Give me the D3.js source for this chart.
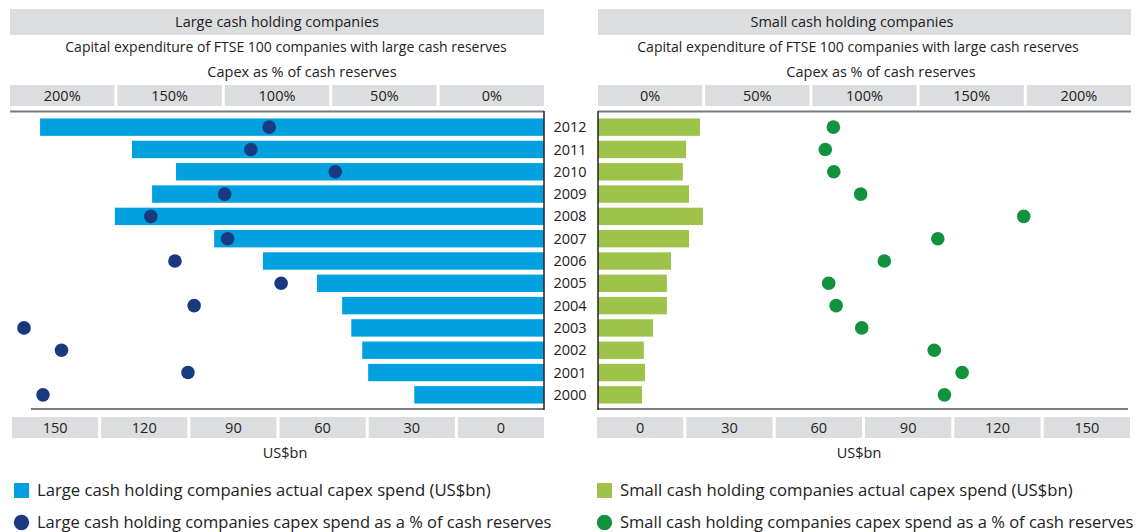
<!DOCTYPE html>
<html>
<head>
<meta charset="utf-8">
<script src="https://cdn.jsdelivr.net/npm/d3@7"></script>
<style>
  body { margin: 0; background: #fff; }
  svg text { font-family: "Open Sans", "Noto Sans", sans-serif; fill: #222; }
</style>
</head>
<body>
<svg id="chart" width="1141" height="532"></svg>
<script>
let svg = d3.select('#chart');

// data
let years = ['2012','2011','2010','2009','2008','2007','2006','2005','2004','2003','2002','2001','2000'];
let largeSpend = [170.5, 139.4, 124.5, 132.6, 145.2, 111.6, 95.1, 76.8, 68.3, 65.2, 61.5, 59.5, 43.9];
let largePct   = [128.9, 137.5, 97.9, 149.8, 184.4, 148.4, 173.1, 123.3, 164.1, 243.9, 226.3, 167.0, 235.0];
let smallSpend = [34.5, 29.8, 28.7, 30.8, 35.5, 30.8, 24.7, 23.3, 23.3, 18.6, 15.5, 15.9, 14.9];
let smallPct   = [110.4, 106.6, 110.6, 123.2, 199.7, 159.4, 134.3, 108.2, 111.7, 123.7, 157.7, 170.8, 162.5];
let pctTicks = ['0%', '50%', '100%', '150%', '200%'];
let bnTicks = ['0', '30', '60', '90', '120', '150'];

let boxFill = '#dcdddf';
let lineColor = '#7a7a7a';

let y = d3.scaleBand()
    .domain(years)
    .range([116, 406])
    .paddingInner(0.22)
    .paddingOuter(0.11);

function drawPanel(p) {
  let g = svg.append('g');

  // header
  g.append('rect').attr('x', p.left).attr('y', 9).attr('width', p.right - p.left).attr('height', 26).attr('fill', boxFill);
  g.append('text').attr('x', p.titleX).attr('y', 22).attr('dy', '0.35em')
    .attr('text-anchor', 'middle').style('font-size', '14.5px').text(p.title);
  g.append('text').attr('x', p.subX).attr('y', 47).attr('dy', '0.35em')
    .attr('text-anchor', 'middle').style('font-size', '14px').text(p.subtitle);
  g.append('text').attr('x', p.capexX).attr('y', 72).attr('dy', '0.35em')
    .attr('text-anchor', 'middle').style('font-size', '14.5px').text('Capex as % of cash reserves');

  // percent tick boxes
  let pctBand = d3.scaleBand().domain(p.pctLabels).range([p.left, p.right]).paddingInner(0.028);
  g.selectAll('.pct-box').data(p.pctLabels).join('rect').classed('pct-box', true)
    .attr('x', d => pctBand(d)).attr('y', 85).attr('width', pctBand.bandwidth()).attr('height', 21)
    .attr('fill', boxFill);
  g.selectAll('.pct-label').data(p.pctLabels).join('text').classed('pct-label', true)
    .attr('x', d => pctBand(d) + pctBand.bandwidth() / 2).attr('y', 96).attr('dy', '0.35em')
    .attr('text-anchor', 'middle').style('font-size', '14.5px').text(d => d);

  // bars
  g.selectAll('.bar').data(years).join('rect').classed('bar', true)
    .attr('x', (d, i) => Math.min(p.xBn(0), p.xBn(p.spend[i])))
    .attr('y', d => y(d))
    .attr('width', (d, i) => Math.abs(p.xBn(p.spend[i]) - p.xBn(0)))
    .attr('height', y.bandwidth())
    .attr('fill', p.barColor);

  // frame lines
  g.append('line').attr('x1', p.left).attr('x2', p.right).attr('y1', 111.5).attr('y2', 111.5)
    .attr('stroke', lineColor).attr('stroke-width', 2);
  g.append('line').attr('x1', p.bottomFrom).attr('x2', p.bottomTo).attr('y1', 409).attr('y2', 409)
    .attr('stroke', lineColor).attr('stroke-width', 2);
  g.append('line').attr('x1', p.xBn(0)).attr('x2', p.xBn(0)).attr('y1', 111).attr('y2', 410)
    .attr('stroke', '#222').attr('stroke-width', 1.5);

  // dots
  g.selectAll('.dot').data(years).join('circle').classed('dot', true)
    .attr('cx', (d, i) => p.xPct(p.pct[i]))
    .attr('cy', d => y(d) + y.bandwidth() / 2)
    .attr('r', 6.8)
    .attr('fill', p.dotColor);

  // US$bn boxes
  let bnBand = d3.scaleBand().domain(p.bnLabels).range([p.bnFrom, p.bnTo]).paddingInner(0.034);
  g.selectAll('.bn-box').data(p.bnLabels).join('rect').classed('bn-box', true)
    .attr('x', d => bnBand(d)).attr('y', 417).attr('width', bnBand.bandwidth()).attr('height', 21)
    .attr('fill', boxFill);
  g.selectAll('.bn-label').data(p.bnLabels).join('text').classed('bn-label', true)
    .attr('x', d => bnBand(d) + bnBand.bandwidth() / 2).attr('y', 427.5).attr('dy', '0.35em')
    .attr('text-anchor', 'middle').style('font-size', '14.5px').text(d => d);
  g.append('text').attr('x', p.unitX).attr('y', 453).attr('dy', '0.35em')
    .attr('text-anchor', 'middle').style('font-size', '14.5px').text('US$bn');

  // legend
  g.append('rect').attr('x', p.legendX).attr('y', 483).attr('width', 15).attr('height', 15).attr('fill', p.barColor);
  g.append('text').attr('x', p.legendX + 23).attr('y', 490.5).attr('dy', '0.35em')
    .style('font-size', '16.7px').text(p.legendBar);
  g.append('circle').attr('cx', p.legendX + 7.5).attr('cy', 522.5).attr('r', 7.7).attr('fill', p.dotColor);
  g.append('text').attr('x', p.legendX + 23).attr('y', 522.5).attr('dy', '0.35em')
    .style('font-size', '16.5px').text(p.legendDot);
}

drawPanel({
  left: 10, right: 544,
  title: 'Large cash holding companies',
  subtitle: 'Capital expenditure of FTSE 100 companies with large cash reserves',
  titleX: 277, subX: 286, capexX: 302,
  pctLabels: pctTicks.slice().reverse(),
  bnLabels: bnTicks.slice().reverse(),
  xBn: d3.scaleLinear().domain([0, 180]).range([544, 12]),
  xPct: d3.scaleLinear().domain([0, 250]).range([544, 11]),
  spend: largeSpend, pct: largePct,
  barColor: '#00a1de', dotColor: '#1a3a80',
  bottomFrom: 31, bottomTo: 544,
  bnFrom: 12, bnTo: 544,
  unitX: 285,
  legendX: 14,
  legendBar: 'Large cash holding companies actual capex spend (US$bn)',
  legendDot: 'Large cash holding companies capex spend as a % of cash reserves'
});

drawPanel({
  left: 598, right: 1131,
  title: 'Small cash holding companies',
  subtitle: 'Capital expenditure of FTSE 100 companies with large cash reserves',
  titleX: 852, subX: 858, capexX: 881,
  pctLabels: pctTicks,
  bnLabels: bnTicks,
  xBn: d3.scaleLinear().domain([0, 180]).range([598, 1130]),
  xPct: d3.scaleLinear().domain([0, 250]).range([598, 1131]),
  spend: smallSpend, pct: smallPct,
  barColor: '#9dc34b', dotColor: '#12923f',
  bottomFrom: 598, bottomTo: 1128,
  bnFrom: 597, bnTo: 1130,
  unitX: 859,
  legendX: 597,
  legendBar: 'Small cash holding companies actual capex spend (US$bn)',
  legendDot: 'Small cash holding companies capex spend as a % of cash reserves'
});

// year labels between the panels
svg.selectAll('.year').data(years).join('text').classed('year', true)
  .attr('x', 570).attr('y', d => y(d) + y.bandwidth() / 2).attr('dy', '0.35em')
  .attr('text-anchor', 'middle').style('font-size', '14.5px').text(d => d);
</script>
</body>
</html>
